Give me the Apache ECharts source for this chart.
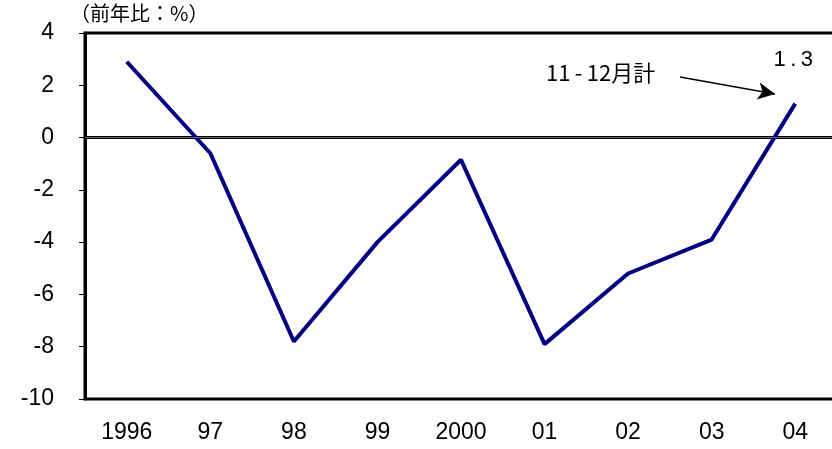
<!DOCTYPE html>
<html>
<head>
<meta charset="utf-8">
<script src="https://cdn.jsdelivr.net/npm/echarts@6/dist/echarts.min.js"></script>
<style>
  html, body { margin: 0; padding: 0; background: #fff; }
  #chart { width: 832px; height: 449px; }
</style>
</head>
<body>
<div id="chart"></div>
<script>
// 年次カテゴリ
var years = ['1996', '97', '98', '99', '2000', '01', '02', '03', '04'];
// 前年比(%)
var yoyValues = [2.9, -0.6, -7.8, -4.0, -0.85, -7.9, -5.2, -3.9, 1.3];
// 縦軸目盛
var yMin = -10, yMax = 4, yStep = 2;

var fontLatin = '"Liberation Sans", Arial, sans-serif';
var fontJa = '"Noto Sans CJK JP", "Liberation Sans", sans-serif';

var chart = echarts.init(document.getElementById('chart'));
var option = {
    animation: false,
    backgroundColor: '#fff',
    grid: {
        left: 85,
        width: 752,
        top: 33,
        bottom: 50,
        show: true,
        borderColor: '#000',
        borderWidth: 3,
        containLabel: false,
        outerBoundsMode: 'none'
    },
    graphic: [
        {
            type: 'text',
            left: 70,
            top: 3,
            style: { text: '（前年比：%）', font: '20px ' + fontJa, fill: '#000' }
        },
        {
            type: 'text',
            left: 546,
            top: 62,
            style: { text: '11\u2009-\u200912月計', font: '22px ' + fontJa, fill: '#000' }
        }
    ],
    xAxis: {
        type: 'category',
        data: years,
        boundaryGap: true,
        axisLine: { show: true, lineStyle: { color: '#000', width: 3 } },
        axisTick: { show: false },
        axisLabel: { color: '#000', fontSize: 23, fontFamily: fontLatin, margin: 22 },
        splitLine: { show: false }
    },
    yAxis: {
        type: 'value',
        min: yMin,
        max: yMax,
        interval: yStep,
        axisLine: { show: true, lineStyle: { color: '#000', width: 3 } },
        axisTick: { show: true, length: 6, lineStyle: { color: '#000', width: 1 } },
        axisLabel: { color: '#000', fontSize: 23, fontFamily: fontLatin, margin: 31 },
        splitLine: { show: false }
    },
    series: [{
        type: 'line',
        data: yoyValues,
        symbol: 'none',
        lineStyle: { color: '#000080', width: 4 },
        markLine: {
            silent: true,
            symbol: 'none',
            label: { show: false },
            lineStyle: { color: '#666', width: 1, type: 'solid' },
            data: [
                { yAxis: 0 },
                [
                    { x: 680, y: 77, symbol: 'none', lineStyle: { color: '#000', width: 1.5, type: 'solid' } },
                    { x: 775, y: 94, symbol: 'arrow', symbolSize: [13, 17] }
                ]
            ]
        },
        markPoint: {
            symbol: 'circle',
            symbolSize: 0,
            data: [{ coord: [8, 1.3], value: '1.3' }],
            label: {
                show: true,
                position: 'top',
                distance: 33,
                offset: [-2, 0],
                formatter: '1\u2009.\u20093',
                color: '#000',
                fontSize: 22,
                fontFamily: fontLatin
            }
        }
    }]
};
chart.setOption(option);
</script>
</body>
</html>
